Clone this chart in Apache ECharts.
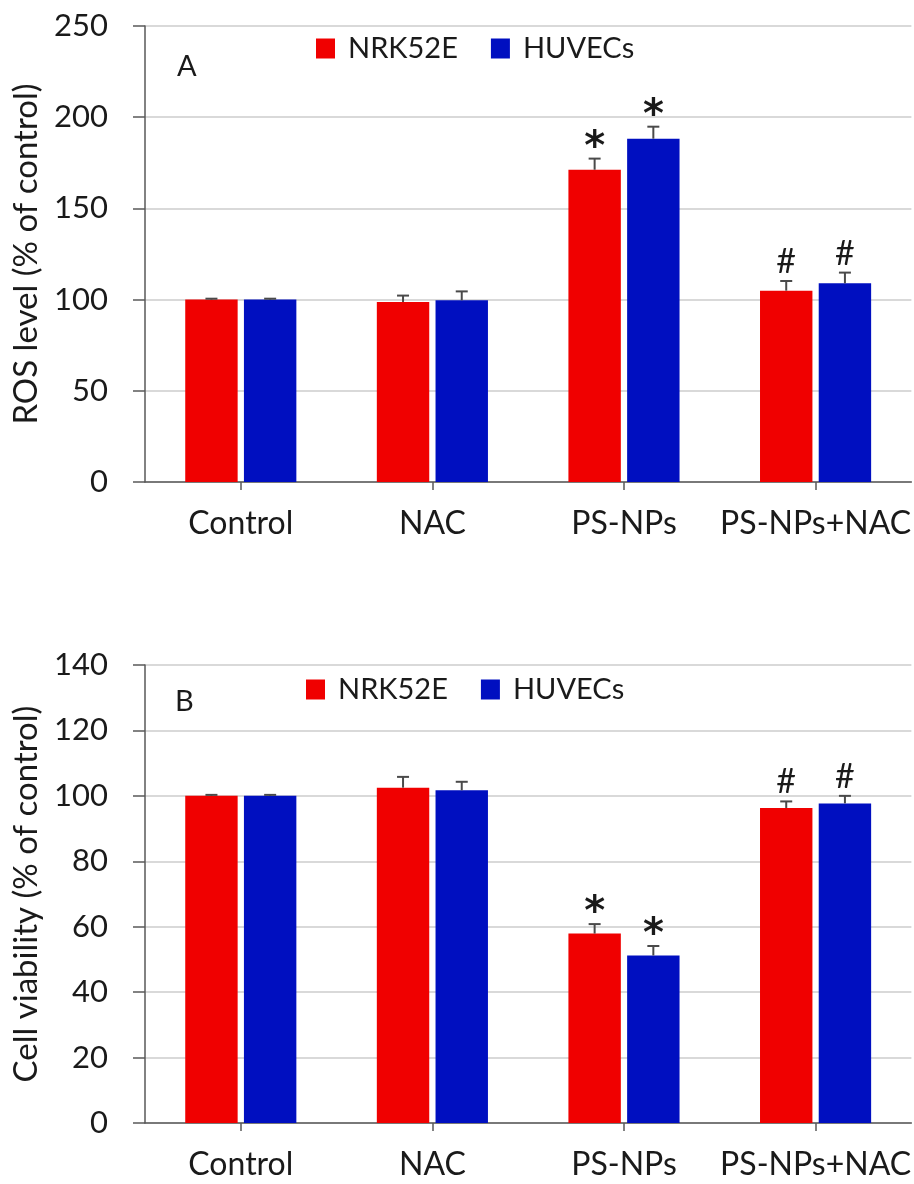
<!DOCTYPE html>
<html>
<head>
<meta charset="utf-8">
<script src="https://cdn.jsdelivr.net/npm/echarts@6/dist/echarts.min.js"></script>
<style>
  html, body { margin: 0; padding: 0; background: #fff; }
  #chart { width: 914px; height: 1184px; }
</style>
</head>
<body>
<div id="chart"></div>
<script>
// Treatment groups shared by both panels
const categories = ['Control', 'NAC', 'PS-NPs', 'PS-NPs+NAC'];
const seriesNames = ['NRK52E', 'HUVECs'];

// Panel A: ROS level (% of control)
const rosNRK = [100, 98.7, 171.2, 104.9];
const rosNRKErr = [0.5, 3.5, 6.1, 5.3];
const rosHUV = [100, 99.6, 188.2, 108.9];
const rosHUVErr = [0.5, 4.9, 6.6, 5.9];
const rosNRKMark = ['', '', '*', '#'];
const rosHUVMark = ['', '', '*', '#'];
const rosTicks = [0, 50, 100, 150, 200, 250];

// Panel B: Cell viability (% of control)
const viaNRK = [100, 102.5, 57.9, 96.3];
const viaNRKErr = [0.3, 3.3, 2.9, 2.0];
const viaHUV = [100, 101.7, 51.2, 97.7];
const viaHUVErr = [0.3, 2.6, 2.9, 2.3];
const viaNRKMark = ['', '', '*', '#'];
const viaHUVMark = ['', '', '*', '#'];
const viaTicks = [0, 20, 40, 60, 80, 100, 120, 140];

const RED = '#F00000';
const BLUE = '#000FC0';
const FONT = 'Lato, "Open Sans", sans-serif';
const TEXT = '#1a1a1a';
const CAT_GAP = 0.42;   // barCategoryGap
const BAR_GAP = 0.12;   // barGap

// Upper error bar plus significance mark, offset to sit on the matching bar
function errorItem(side) {
  return function (params, api) {
    const idx = api.value(0);
    const val = api.value(1);
    const err = api.value(2);
    const mark = api.value(3);
    const band = api.size([1, 0])[0];
    const w = band * (1 - CAT_GAP) / (2 + BAR_GAP);
    const off = side * w * (1 + BAR_GAP) / 2;
    const top = api.coord([idx, val]);
    const hi = api.coord([idx, val + err]);
    const x = top[0] + off;
    const cap = 6;
    const style = { stroke: '#4a4a4a', lineWidth: 2 };
    const children = [
      { type: 'line', shape: { x1: x, y1: top[1], x2: x, y2: hi[1] }, style: style },
      { type: 'line', shape: { x1: x - cap, y1: hi[1], x2: x + cap, y2: hi[1] }, style: style }
    ];
    if (mark) {
      const isStar = mark === '*';
      children.push({
        type: 'text',
        style: {
          text: mark,
          x: x,
          y: hi[1] + (isStar ? 10 : -2),
          textAlign: 'center',
          textVerticalAlign: 'bottom',
          fontSize: isStar ? 40 : 34,
          fontWeight: isStar ? 'bold' : 'normal',
          fontFamily: isStar ? '"DejaVu Sans", sans-serif' : FONT,
          fill: TEXT
        }
      });
    }
    return { type: 'group', children: children };
  };
}

function errData(vals, errs, marks) {
  return vals.map((v, i) => [i, v, errs[i], marks[i]]);
}

function xAxisFor(gridIndex) {
  return {
    type: 'category',
    gridIndex: gridIndex,
    data: categories,
    axisLine: { lineStyle: { color: '#595959', width: 1.5 } },
    axisTick: { show: true, alignWithLabel: true, length: 8, lineStyle: { color: '#595959', width: 1.5 } },
    axisLabel: { interval: 0, color: TEXT, fontSize: 32, fontFamily: FONT, margin: 26 }
  };
}

function yAxisFor(gridIndex, ticks, name) {
  return {
    type: 'value',
    gridIndex: gridIndex,
    min: ticks[0],
    max: ticks[ticks.length - 1],
    interval: ticks[1] - ticks[0],
    name: name,
    nameLocation: 'middle',
    nameGap: 101,
    nameTextStyle: { color: TEXT, fontSize: 33, fontFamily: FONT },
    axisLine: { show: true, lineStyle: { color: '#595959', width: 1.5 } },
    axisTick: { show: true, inside: false, length: 12, lineStyle: { color: '#595959', width: 1.5 } },
    axisLabel: { color: TEXT, fontSize: 31, fontFamily: FONT, margin: 37 },
    splitLine: { show: true, lineStyle: { color: '#d9d9d9', width: 2 } }
  };
}

function barSeries(name, data, color, axisIndex) {
  return {
    type: 'bar',
    name: name,
    xAxisIndex: axisIndex,
    yAxisIndex: axisIndex,
    data: data,
    barCategoryGap: (CAT_GAP * 100) + '%',
    barGap: (BAR_GAP * 100) + '%',
    itemStyle: { color: color },
    z: 2
  };
}

function errSeries(data, side, axisIndex) {
  return {
    type: 'custom',
    xAxisIndex: axisIndex,
    yAxisIndex: axisIndex,
    renderItem: errorItem(side),
    data: data,
    encode: { x: 0, y: 1 },
    z: 3,
    silent: true
  };
}

function legendFor(left, top) {
  return {
    data: seriesNames.map(n => ({ name: n, icon: 'rect' })),
    left: left,
    top: top,
    padding: 0,
    itemWidth: 19,
    itemHeight: 20,
    itemGap: 33,
    textStyle: { color: TEXT, fontSize: 29, fontFamily: FONT, padding: [0, 0, 0, 8] }
  };
}

const chart = echarts.init(document.getElementById('chart'), null, { renderer: 'canvas' });
chart.setOption({
  backgroundColor: '#ffffff',
  animation: false,
  grid: [
    { left: 145, top: 26, width: 767, height: 456 },
    { left: 145, top: 665, width: 767, height: 458 }
  ],
  legend: [legendFor(316, 34), legendFor(306, 675)],
  xAxis: [xAxisFor(0), xAxisFor(1)],
  yAxis: [
    yAxisFor(0, rosTicks, 'ROS level (% of control)'),
    yAxisFor(1, viaTicks, 'Cell viability (% of control)')
  ],
  graphic: [
    { type: 'text', left: 177, top: 52, style: { text: 'A', fontSize: 29, fontFamily: FONT, fill: TEXT } },
    { type: 'text', left: 175, top: 687, style: { text: 'B', fontSize: 29, fontFamily: FONT, fill: TEXT } }
  ],
  series: [
    barSeries(seriesNames[0], rosNRK, RED, 0),
    barSeries(seriesNames[1], rosHUV, BLUE, 0),
    errSeries(errData(rosNRK, rosNRKErr, rosNRKMark), -1, 0),
    errSeries(errData(rosHUV, rosHUVErr, rosHUVMark), 1, 0),
    barSeries(seriesNames[0], viaNRK, RED, 1),
    barSeries(seriesNames[1], viaHUV, BLUE, 1),
    errSeries(errData(viaNRK, viaNRKErr, viaNRKMark), -1, 1),
    errSeries(errData(viaHUV, viaHUVErr, viaHUVMark), 1, 1)
  ]
});
</script>
</body>
</html>
